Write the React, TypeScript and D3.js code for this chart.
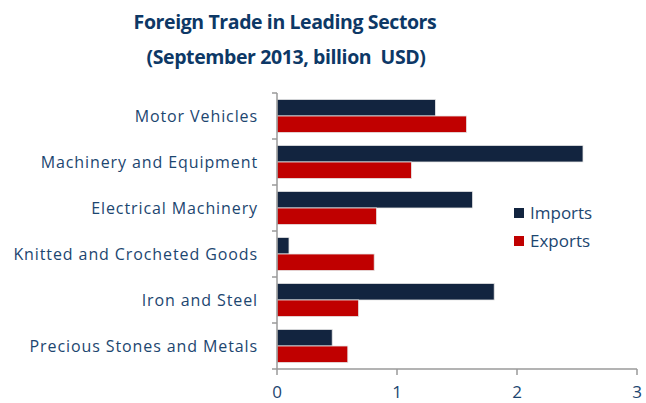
import React, { useEffect, useRef } from "react";
import * as d3 from "d3";

const sectors = [
  "Motor Vehicles",
  "Machinery and Equipment",
  "Electrical Machinery",
  "Knitted and Crocheted Goods",
  "Iron and Steel",
  "Precious Stones and Metals",
];
const imports = [1.32, 2.55, 1.63, 0.1, 1.81, 0.46];
const exports_ = [1.58, 1.12, 0.83, 0.81, 0.68, 0.59];
const seriesNames = ["Imports", "Exports"];
const seriesColors = ["#12243f", "#c00000"];
const xTicks = [0, 1, 2, 3];

const W = 646;
const H = 403;
const FONT = "'Open Sans', sans-serif";
const TEXT = "#1c4670";

export default function App() {
  const ref = useRef<SVGSVGElement>(null);

  useEffect(() => {
    const svg = d3.select(ref.current);
    svg.selectAll("*").remove();

    const left = 277, right = 637, top = 93, bottom = 369;

    const x = d3.scaleLinear().domain([0, 3]).range([left, right]);
    const y = d3.scaleBand().domain(sectors).range([top, bottom]);
    const inner = d3.scaleBand().domain(seriesNames).range([0, y.bandwidth()]).paddingOuter(0.39).paddingInner(0);

    // title
    const title = svg.append("g").attr("font-family", FONT).attr("font-weight", 700)
      .attr("font-size", 19.5).attr("letter-spacing", -0.4).attr("fill", "#0d3866")
      .attr("text-anchor", "middle");
    title.append("text").attr("x", 285).attr("y", 29).text("Foreign Trade in Leading Sectors");
    title.append("text").attr("x", 286).attr("y", 64).text("(September 2013, billion\u00a0 USD)");

    // bars
    const rows = sectors.map((s, i) => ({ s, vals: [imports[i], exports_[i]] }));
    const g = svg.append("g");
    rows.forEach(r => {
      r.vals.forEach((v, j) => {
        g.append("rect")
          .attr("x", x(0))
          .attr("y", (y(r.s) as number) + (inner(seriesNames[j]) as number))
          .attr("width", x(v) - x(0))
          .attr("height", inner.bandwidth())
          .attr("fill", seriesColors[j])
          .attr("stroke", "#e6e6e6")
          .attr("stroke-width", 0.8);
      });
    });

    // y axis
    const axisColor = "#9a9a9a";
    svg.append("line").attr("x1", left).attr("x2", left).attr("y1", top).attr("y2", bottom)
      .attr("stroke", axisColor).attr("stroke-width", 1.5);
    const bounds = [...sectors.map(s => y(s) as number), bottom];
    svg.selectAll(".yt").data(bounds).join("line")
      .attr("x1", left - 5).attr("x2", left).attr("y1", d => d).attr("y2", d => d)
      .attr("stroke", axisColor).attr("stroke-width", 1.5);
    svg.selectAll(".yl").data(sectors).join("text")
      .attr("x", 258)
      .attr("y", d => (y(d) as number) + y.bandwidth() / 2)
      .attr("dy", "0.35em")
      .attr("text-anchor", "end")
      .attr("font-family", FONT).attr("font-size", 16).attr("letter-spacing", 0.9).attr("fill", TEXT)
      .text(d => d);

    // x axis
    svg.append("line").attr("x1", left).attr("x2", right).attr("y1", bottom).attr("y2", bottom)
      .attr("stroke", axisColor).attr("stroke-width", 1.5);
    svg.selectAll(".xt").data(xTicks).join("line")
      .attr("x1", d => x(d)).attr("x2", d => x(d)).attr("y1", bottom).attr("y2", bottom + 6)
      .attr("stroke", axisColor).attr("stroke-width", 1.5);
    svg.selectAll(".xl").data(xTicks).join("text")
      .attr("x", d => x(d)).attr("y", 398)
      .attr("text-anchor", "middle")
      .attr("font-family", FONT).attr("font-size", 17).attr("fill", TEXT)
      .text(d => d);

    // legend
    const lg = svg.append("g").attr("transform", "translate(514,205)");
    seriesNames.forEach((n, i) => {
      lg.append("rect").attr("x", 0).attr("y", i * 28 + 3).attr("width", 10).attr("height", 10)
        .attr("fill", seriesColors[i]);
      lg.append("text").attr("x", 16).attr("y", i * 28 + 8).attr("dy", "0.35em")
        .attr("font-family", FONT).attr("font-size", 17).attr("fill", TEXT).text(n);
    });
  }, []);

  return (
    <svg ref={ref} width={W} height={H}
      style={{ position: "absolute", left: 0, top: 0, background: "#fff" }} />
  );
}
